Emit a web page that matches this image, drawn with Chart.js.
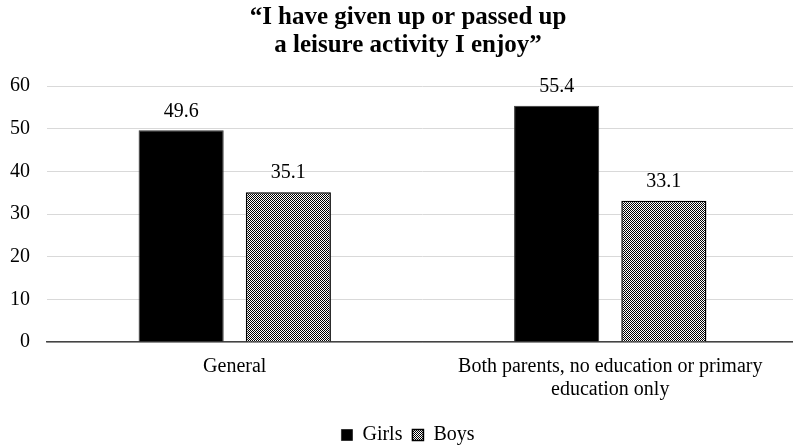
<!DOCTYPE html>
<html><head><meta charset="utf-8">
<script src="https://cdn.jsdelivr.net/npm/chart.js@4"></script>
<style>html,body{margin:0;padding:0;background:#fff;overflow:hidden}#wrap{width:816px;height:445px;position:relative}</style>
</head><body><div id="wrap"><canvas id="c"></canvas></div>
<script>
const categories = [["General"], ["Both parents, no education or primary", "education only"]];
const seriesNames = ["Girls", "Boys"];
const girls = [49.6, 55.4];
const boys = [35.1, 33.1];
const yTicks = [0, 10, 20, 30, 40, 50, 60];

function makePattern() {
  const p = document.createElement('canvas');
  p.width = 2; p.height = 2;
  const g = p.getContext('2d');
  g.fillStyle = '#fff'; g.fillRect(0, 0, 2, 2);
  g.fillStyle = '#000'; g.fillRect(0, 0, 1, 1); g.fillRect(1, 1, 1, 1);
  return g.createPattern(p, 'repeat');
}
const pat = makePattern();
const FONT = "'Liberation Serif','Times New Roman',serif";

const labelPlugin = {
  id: 'vals',
  afterDatasetsDraw(chart) {
    const ctx = chart.ctx;
    ctx.save();
    ctx.font = `20px ${FONT}`;
    ctx.fillStyle = '#000';
    ctx.textAlign = 'center';
    ctx.textBaseline = 'middle';
    chart.data.datasets.forEach((ds, i) => {
      chart.getDatasetMeta(i).data.forEach((el, j) => {
        ctx.fillText(ds.data[j].toFixed(1), el.x, el.y - 19);
      });
    });
    ctx.restore();
  }
};

new Chart(document.getElementById('c'), {
  type: 'bar',
  data: {
    labels: categories,
    datasets: [
      { label: seriesNames[0], data: girls, backgroundColor: '#000', borderColor: '#333', borderWidth: 1,
        categoryPercentage: 0.571, barPercentage: 0.794 },
      { label: seriesNames[1], data: boys, backgroundColor: pat, borderColor: '#000', borderWidth: 1.5,
        categoryPercentage: 0.571, barPercentage: 0.794 }
    ]
  },
  options: {
    responsive: true, maintainAspectRatio: false, animation: false,
    layout: { padding: { left: 0, right: 0, top: 4, bottom: -10 } },
    plugins: {
      title: { display: true, text: ['\u201CI have given up or passed up', 'a leisure activity I enjoy\u201D'],
        color: '#000', font: { family: FONT, size: 25, weight: 'bold', lineHeight: 1.12 }, padding: { top: 0, bottom: 26 } },
      legend: { position: 'bottom', labels: { color: '#000', boxWidth: 11, boxHeight: 11, padding: 10,
        font: { family: FONT, size: 20 } } },
      tooltip: { enabled: false }
    },
    scales: {
      x: {
        afterFit: s => { s.height = 73; },
        grid: { display: false, drawTicks: false },
        border: { display: true, color: '#444', width: 1.5 },
        ticks: { color: '#000', padding: 13, maxRotation: 0, autoSkip: false, font: { family: FONT, size: 20, lineHeight: 1.15 } }
      },
      y: {
        min: 0, max: 60,
        afterBuildTicks: s => { s.ticks = yTicks.map(v => ({ value: v })); },
        afterFit: s => { s.width = 47; },
        grid: { color: '#d9d9d9', lineWidth: 1, drawTicks: false },
        border: { display: false },
        ticks: { color: '#000', padding: 17, font: { family: FONT, size: 20 } }
      },
      yRight: {
        type: 'linear', position: 'right', display: true,
        afterFit: s => { s.width = 18; },
        grid: { display: false, drawTicks: false },
        border: { display: false },
        ticks: { display: false }
      }
    }
  },
  plugins: [labelPlugin]
});
</script></body></html>
